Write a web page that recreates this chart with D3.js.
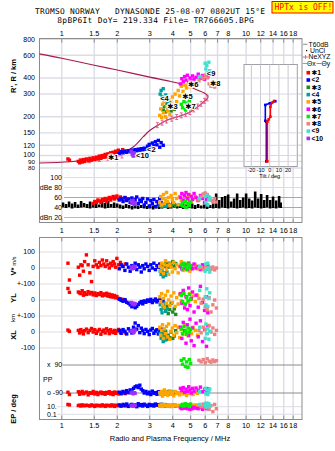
<!DOCTYPE html>
<html>
<head>
<meta charset="utf-8">
<script src="https://cdn.jsdelivr.net/npm/d3@7/dist/d3.min.js"></script>
<style>
  body { margin: 0; background: #ffffff; }
  svg { display: block; font-family: "Liberation Sans", Arial, "DejaVu Sans", sans-serif; }
</style>
</head>
<body>
<svg id="chart" width="335" height="451"></svg>
<script>
// ---- values ----
const freqTicks = [1, 1.5, 2, 3, 4, 5, 6, 7, 8, 10, 12, 14, 16, 18];
const heightTicks = [80, 90, 100, 120, 150, 200, 300, 400, 600, 800];
const dbTicks = [100, 80, 60, 40, 20];
const dbTickLabels = ['100', 'dBe 80', '60', '40', 'dBn 20'];
const tiltTicks = [-20, -10, 0, 10, 20];

const echoNames = ['✱1', '<2', '✱3', '<4', '✱5', '✱6', '✱7', '✱8', '<9', '<10'];
const echoColors = ['#ff0000', '#0000ff', '#228b22', '#00a0a0', '#ffa500',
                    '#ff00ff', '#00ee00', '#f08080', '#40e0d0', '#9b30ff'];

// each row: [freq MHz, range km, amplitude dB, V* m/s, YL km, XL km, PP deg, EP deg]
const echo1 = [
  [1.08, 94, null, 30, 72, 12, -85, 40], [1.10, 92, null, -75, 48, 4, -100, 30],
  [1.23, 90, null, 5, 50, 10, -82, 20], [1.25, 88, null, -45, 44, -6, -98, 25],
  [1.27, 92, null, 20, 40, 15, -88, 15], [1.29, 89, null, 15, 58, 2, -80, 30],
  [1.31, 93, null, -20, 30, -12, -95, 22], [1.33, 90, null, 40, 46, 8, -90, 18],
  [1.36, 94, null, 82, 35, 18, -84, 25], [1.39, 91, null, 20, 52, -4, -102, 20],
  [1.42, 95, null, -30, 38, 10, -88, 15], [1.45, 92, null, -85, 47, 22, -92, 30],
  [1.48, 96, 48, 10, 32, 0, -80, 20], [1.51, 93, 52, 45, 44, 14, -96, 12],
  [1.54, 97, 50, 20, 28, -8, -86, 25], [1.57, 94, 55, 5, 40, 6, -100, 18],
  [1.60, 99, 53, 35, 34, 16, -90, 22], [1.63, 95, 50, 15, 46, -14, -84, 15],
  [1.66, 100, 56, 50, 26, 4, -94, 30], [1.69, 97, 54, 25, 38, 12, -88, 20],
  [1.72, 102, 58, 10, 30, -6, -98, 12], [1.75, 98, 52, 45, 42, 20, -86, 25],
  [1.78, 103, 57, 20, 24, 8, -92, 18], [1.81, 100, 60, 0, 36, -10, -82, 22],
  [1.84, 105, 55, 30, 20, 14, -96, 15], [1.87, 101, 59, 15, 32, 2, -88, 30],
  [1.90, 106, 62, 40, 18, -4, -100, 20], [1.93, 103, 57, 25, 28, 10, -84, 12],
  [1.96, 108, 60, 5, 14, -8, -92, 25], [1.99, 104, 63, 60, 22, 6, -86, 18],
  [2.03, 110, 58, 20, 10, 16, -96, 22], [2.08, 106, 61, 35, 8, -2, -90, 15],
  [2.14, 111, 56, 10, 4, 8, -84, 20], [2.21, 108, 59, 25, -2, -6, -94, 18]
];
const echo2 = [
  [2.05, 104, 55, -5, 5, 10, -85, 30], [2.10, 107, 58, 20, -2, -8, -95, 15],
  [2.15, 105, 52, 10, -8, 15, -80, 40], [2.20, 108, 60, -15, 2, 4, -90, 20],
  [2.25, 106, 54, 25, -14, -12, -75, 50], [2.30, 109, 57, 5, -20, 20, -88, 12],
  [2.35, 107, 50, -20, -30, 8, -70, 25], [2.40, 110, 59, 15, -42, -6, -82, 40],
  [2.45, 108, 53, 0, -36, 30, -60, 18], [2.50, 111, 56, 30, -48, 56, -50, 30],
  [2.55, 109, 61, -10, -40, 18, -45, 10], [2.60, 112, 48, 20, -28, 40, -55, 60],
  [2.65, 110, 55, 5, -18, -4, -40, 20], [2.70, 113, 52, -25, -10, 24, -65, 35],
  [2.75, 111, 58, 15, -24, 10, -75, 15], [2.80, 114, 45, -5, -6, -10, -90, 45],
  [2.86, 112, 50, 25, -14, 16, -80, 25], [2.92, 118, 57, 10, 0, 4, -95, 12],
  [2.98, 122, 43, -15, -8, -16, -85, 40], [3.04, 115, 54, 20, 4, 12, -100, 20],
  [3.10, 125, 48, 0, -16, 22, -78, 30], [3.16, 119, 56, 30, -4, -8, -92, 15],
  [3.22, 128, 42, -10, 6, 6, -88, 50], [3.28, 121, 52, 15, -12, 14, -98, 25],
  [3.34, 131, 46, 5, -2, -12, -82, 35], [3.40, 116, 58, 25, 2, 0, -90, 18],
  [3.46, 126, 50, -20, -10, 18, -95, 40], [3.55, 120, 44, 10, -6, 8, -86, 22]
];
const echo3 = [
  [3.55, 225, 46, 20, -30, -10, -92, 20], [3.60, 240, 44, 10, -50, -30, -86, 30],
  [3.66, 218, 48, 35, -70, 5, -95, 15], [3.72, 250, 42, 25, -40, -45, -88, 25],
  [3.78, 232, 47, 5, -85, -20, -80, 18], [3.85, 258, 45, 30, -60, -35, -96, 22],
  [3.92, 222, 43, 15, -20, 0, -90, 12], [4.00, 245, 49, 40, -75, -40, -84, 28],
  [4.08, 228, 46, 10, -55, -25, -92, 20], [4.15, 236, 44, 28, -90, 8, -86, 15]
];
const echo4 = [
  [3.42, 300, 44, -20, -30, -10, -95, 30], [3.46, 320, 46, -40, -60, -40, -88, 20],
  [3.50, 285, 42, -12, -80, -20, -92, 40], [3.55, 330, 45, -55, -45, -60, -85, 25],
  [3.60, 270, 43, -30, -20, 0, -90, 15], [3.66, 295, 47, -45, -70, -50, -96, 35],
  [3.72, 262, 44, -25, -55, -30, -88, 22]
];
const echo5 = [
  [3.40, 205, 50, 10, 20, 30, -88, 20], [3.44, 230, 62, -20, -10, -20, -100, 15],
  [3.48, 198, 45, 30, 40, 10, -80, 30], [3.52, 250, 58, 0, -30, 45, -110, 12],
  [3.56, 215, 66, -35, 10, -40, -92, 25], [3.60, 262, 48, 20, -45, 20, -70, 40],
  [3.65, 200, 55, 45, 30, -10, -96, 18], [3.70, 240, 70, -10, -20, 35, -84, 22],
  [3.75, 222, 52, 15, 55, -30, -104, 15], [3.80, 270, 60, -40, 0, 50, -90, 30],
  [3.86, 208, 44, 25, -35, -45, -76, 20], [3.92, 250, 64, 5, 25, 5, -98, 12],
  [3.98, 285, 56, -25, -15, 25, -86, 28], [4.05, 232, 50, 35, 45, -20, -108, 18],
  [4.12, 300, 68, -5, -40, 40, -80, 35], [4.20, 262, 58, 20, 15, -5, -94, 20],
  [4.28, 320, 46, -30, -25, 30, -88, 15], [4.36, 290, 62, 10, 35, -35, -102, 25],
  [4.45, 345, 54, 40, -5, 15, -84, 12], [4.55, 315, 66, -15, 50, -15, -96, 30],
  [4.65, 352, 50, 25, -30, 45, -90, 20], [4.75, 335, 60, 0, 20, 0, -106, 18],
  [4.85, 358, 56, 30, -15, -25, -82, 25], [4.95, 342, 64, -20, 40, 20, -94, 15],
  [5.05, 362, 52, 15, 5, -10, -88, 22], [5.15, 348, 58, 5, 25, 30, -100, 20],
  [5.30, 368, 62, 20, -10, 10, -86, 30], [5.45, 355, 54, -5, 30, -20, -92, 18]
];
const echo6 = [
  [4.40, 360, 60, 10, 40, 30, -60, 5], [4.48, 395, 68, -5, -20, -40, -75, 3],
  [4.56, 375, 55, 25, 60, 60, -55, 8], [4.64, 410, 64, 0, -50, 10, -85, 4],
  [4.72, 385, 70, 20, 20, -70, -65, 6], [4.80, 420, 58, -10, -60, 45, -80, 3],
  [4.88, 370, 66, 30, 75, -20, -50, 10], [4.96, 400, 52, 5, -35, 80, -70, 2],
  [5.04, 380, 62, 15, 10, -55, -90, 5], [5.12, 415, 56, -5, 50, 25, -60, 3],
  [5.22, 392, 68, 25, -75, -85, -78, 7], [5.35, 405, 60, 0, 30, 55, -58, 4],
  [5.50, 428, 54, 10, -45, -30, -72, 3], [5.65, 398, 64, -10, 85, 70, -52, 6],
  [5.80, 418, 58, 20, -15, -60, -82, 2], [5.95, 390, 50, 5, -65, 15, -66, 5],
  [6.10, 425, 56, -8, 20, -90, -76, 3], [6.20, 408, 62, 12, -80, 40, -62, 4]
];
const echo7 = [
  [4.45, 250, 45, 20, 30, 20, 120, 20], [4.52, 235, 50, -5, -10, -10, 95, 40],
  [4.60, 262, 42, 30, 40, 35, 130, 15], [4.68, 228, 52, 10, -25, 5, 80, 60],
  [4.76, 255, 40, -10, 15, -15, 110, 25], [4.84, 240, 48, 25, -5, 25, 75, 35],
  [4.92, 265, 44, 0, 35, 0, 125, 12], [5.00, 232, 51, 15, 5, 15, 100, 50]
];
const echo8 = [
  [5.55, 380, 55, 0, 10, 10, 120, 30], [5.70, 410, 62, 5, -20, -5, 110, 10],
  [5.85, 395, 67, -10, 5, 30, 125, 50], [6.00, 420, 69, 2, -40, 15, 105, 5],
  [6.15, 400, 66, -5, -60, -10, 130, 80], [6.30, 360, 60, 3, 15, 40, 115, 2],
  [6.45, 345, 55, -8, -75, 0, 108, 20], [6.60, 372, 52, 6, -30, 25, 122, 0.5],
  [6.75, 340, 58, -12, 0, -15, 112, 40], [6.90, 355, 51, 0, -50, 10, 118, 3]
];
const echo9 = [
  [5.60, 410, 58, 10, 60, 30, -80, 40], [6.00, 520, 62, -20, 20, -40, -60, 15],
  [6.05, 470, 50, 25, -30, 50, -95, 80], [6.12, 500, 65, -5, 70, -10, -70, 8],
  [6.20, 440, 45, 30, -40, 20, -100, 30], [6.28, 530, 55, 0, 10, -45, -85, 60],
  [6.35, 455, 60, -25, 45, 5, -65, 12]
];
const echo10 = [
  [2.38, 108, 52, 5, -15, 5, -90, 20], [2.41, 102, 48, -5, -25, 10, -85, 15],
  [2.44, 99, 54, 10, -20, -5, -95, 25], [2.47, 105, 46, 0, -30, 0, -88, 18],
  [2.50, 100, 50, 8, -22, 12, -92, 22]
];
const echoSeries = [echo1, echo2, echo3, echo4, echo5, echo6, echo7, echo8, echo9, echo10];

// where each echo name is written on the R' panel [freq, km]
const echoLabelAt = [[1.78, 96], [2.9, 111], [3.73, 239], [3.42, 277], [4.5, 286],
                     [4.84, 357], [4.67, 239], [6.37, 361], [6.12, 438], [2.53, 101]];

// real height profile (bottomside then topside)
const profileFreq = [0.757, 1.11, 1.61, 2.07, 2.45, 2.77, 3.01, 3.28, 3.71, 4.21, 4.97, 5.62, 5.95, 6.2,
                     6.17, 5.9, 5.48, 4.66, 3.86, 3.0, 2.0, 1.5, 1.0, 0.757];
const profileHeight = [87.5, 89.5, 95, 104, 117, 140, 157, 170, 188, 199, 218, 246, 265, 280,
                       293, 307, 321, 354, 377, 406, 461, 502, 569, 615];
const neLowFreq = [1.25, 1.42, 1.6, 1.78, 1.95, 2.12];
const neLowHeight = [90, 92, 94, 96, 98, 100];
const neHighFreq = [3.3, 3.5, 3.7, 3.95, 4.2, 4.45, 4.7, 4.95, 5.2, 5.45, 5.7, 5.95, 6.15];
const neHighHeight = [172, 180, 187, 193, 199, 205, 211, 218, 228, 240, 252, 266, 278];

// tilt inset [deg, km]
const thetaX = [[-2.6, 90], [-2.6, 183], [-1.1, 191], [0.7, 200], [0.7, 239], [2.5, 257], [4.7, 265]];
const thetaY = [[-3.7, 90], [-3.7, 183], [-4.8, 186], [-4.8, 247], [0, 254], [6.1, 264]];

// background noise band in the amplitude strip
const noiseFreq = [1.016, 1.055, 1.095, 1.137, 1.181, 1.226, 1.273, 1.321, 1.372, 1.424, 1.479, 1.535,
  1.594, 1.655, 1.718, 1.784, 1.852, 1.923, 1.996, 2.072, 2.151, 2.234, 2.319, 2.408, 2.5, 2.595,
  2.694, 2.797, 2.904, 3.015, 3.13, 3.25, 3.374, 3.503, 3.637, 3.776, 3.92, 4.07, 4.225, 4.387,
  4.554, 4.728, 4.909, 5.097, 5.291, 5.493, 5.703, 5.921, 6.147, 6.382, 6.626, 6.879, 7.14, 7.41,
  7.70, 7.99, 8.30, 8.61, 8.94, 9.29, 9.64, 10.0, 10.39, 10.78, 11.2, 11.62, 12.07, 12.53, 13.0,
  13.5, 14.0, 14.55, 15.1, 15.4];
const noiseHigh = [50, 47, 52, 48, 51, 46, 53, 49, 47, 52, 48, 50, 46, 51, 49, 53, 47, 50, 48,
  46, 44, 47, 45, 43, 46, 44, 45, 47, 43, 46, 44, 45, 43,
  45, 47, 44, 46, 48, 45, 43, 47, 46, 44, 48, 45, 47, 44, 46, 49, 45, 48,
  68, 55, 61, 63, 66, 52, 58, 68, 55, 60, 68, 58, 54, 72, 58, 67, 55, 65, 55, 62, 54, 63, 50];
const noiseLow = [40, 39, 41, 38, 40, 39, 40, 41, 39, 38, 40, 39, 41, 40, 38, 39, 40, 39, 40,
  38, 37, 39, 38, 36, 38, 37, 39, 38, 37, 38, 36, 38, 37,
  38, 39, 37, 38, 40, 38, 39, 37, 38, 39, 38, 37, 39, 38, 38, 37, 39, 38,
  39, 38, 40, 39, 38, 40, 39, 38, 39, 40, 38, 39, 38, 40, 39, 38, 39, 40, 38, 39, 38, 40, 39];

// ---- scales ----
const x = d3.scaleLog().domain([0.757, 20.1]).range([39.5, 302]);
const yH = d3.scaleLog().domain([80, 810]).range([168, 38.5]);
const yDb = d3.scaleLinear().domain([100, 20]).range([177.5, 217.5]);
const yV = d3.scaleLinear().domain([100, -100]).range([252, 284]);
const yYL = d3.scaleLinear().domain([100, -100]).range([284, 316]);
const yXL = d3.scaleLinear().domain([100, -100]).range([316, 348]);
const yPP = d3.scaleLinear().domain([90, -90]).range([365, 393]);
const yEP = d3.scaleLog().domain([10, 0.1]).range([406.7, 414.3]);
const xTilt = d3.scaleLinear().domain([-28, 30]).range([244, 297.3]);

const svg = d3.select('#chart');
const mono = '"DejaVu Sans Mono", monospace';
const gridColor = '#dcdce6';
const frameColor = '#8c8c8c';

// ---- header ----
svg.append('text')
  .attr('x', 35).attr('y', 14.2)
  .style('font-family', mono).style('font-size', '7.9px').style('white-space', 'pre')
  .attr('textLength', 230).attr('lengthAdjust', 'spacing')
  .text('TROMSO NORWAY   DYNASONDE 25-08-07 0802UT 15°E');
svg.append('text')
  .attr('x', 57.3).attr('y', 23)
  .style('font-family', mono).style('font-size', '7.9px').style('white-space', 'pre')
  .attr('textLength', 196.5).attr('lengthAdjust', 'spacing')
  .text('8pBP6It DoY= 219.334 File= TR766605.BPG');

svg.append('rect')
  .attr('x', 272).attr('y', 1.5).attr('width', 61).attr('height', 11.5)
  .attr('fill', '#ffff00').attr('stroke', '#ff0000').attr('stroke-width', 1);
svg.append('text')
  .attr('x', 274.5).attr('y', 10.3)
  .style('font-family', mono).style('font-size', '8px').style('white-space', 'pre')
  .attr('fill', '#ff0000')
  .text('HPTx is OFF!');

// ---- grids ----
const grid = svg.append('g').attr('stroke', gridColor).attr('stroke-width', 1.4);
[[38.5, 222.5], [237.5, 419.5]].forEach(([y0, y1]) => {
  grid.selectAll(null).data(freqTicks).join('line')
    .attr('x1', d => x(d)).attr('x2', d => x(d))
    .attr('y1', y0).attr('y2', y1);
});
grid.selectAll(null).data(heightTicks).join('line')
  .attr('x1', 39.5).attr('x2', 302)
  .attr('y1', d => yH(d)).attr('y2', d => yH(d));

// amplitude strip lines
svg.append('g').selectAll('line').data(dbTicks).join('line')
  .attr('x1', 64).attr('x2', 302)
  .attr('y1', d => yDb(d)).attr('y2', d => yDb(d))
  .attr('stroke', d => d === 20 ? '#b4b4e6' : (d === 60 || d === 40 ? '#a8a8a8' : gridColor))
  .attr('stroke-width', 1);

// lower panel lines
const lowerLines = [yV(100), yV(0), yV(-100), yYL(0), yYL(-100), yXL(0), yXL(-100)];
svg.append('g').selectAll('line').data(lowerLines).join('line')
  .attr('x1', 39.5).attr('x2', 302)
  .attr('y1', d => d).attr('y2', d => d)
  .attr('stroke', gridColor).attr('stroke-width', 1.2);
svg.append('g').selectAll('line').data([90, -90]).join('line')
  .attr('x1', x(1) + 1).attr('x2', 302)
  .attr('y1', d => yPP(d)).attr('y2', d => yPP(d))
  .attr('stroke', '#8c8c8c').attr('stroke-width', 1);
svg.append('g').selectAll('line').data([10, 0.1]).join('line')
  .attr('x1', 57).attr('x2', 302)
  .attr('y1', d => yEP(d)).attr('y2', d => yEP(d))
  .attr('stroke', gridColor).attr('stroke-width', 1);

// ---- frames ----
const frames = svg.append('g').attr('fill', 'none').attr('stroke', frameColor).attr('stroke-width', 1);
frames.append('rect').attr('x', 39.5).attr('y', 38.5).attr('width', 262.5).attr('height', 184);
frames.append('rect').attr('x', 39.5).attr('y', 237.5).attr('width', 262.5).attr('height', 182);
[[38.5, 4], [222.5, -4], [237.5, 4], [419.5, -4]].forEach(([y0, len]) => {
  frames.selectAll(null).data(freqTicks).join('line')
    .attr('x1', d => x(d)).attr('x2', d => x(d))
    .attr('y1', y0).attr('y2', y0 + len);
});

// ---- frequency labels ----
const tickFont = '7px';
[33, 230, 425].forEach(yp => {
  svg.append('g').selectAll('text').data(freqTicks).join('text')
    .attr('x', d => x(d)).attr('y', yp).attr('dy', '0.35em')
    .attr('text-anchor', 'middle').style('font-size', '7.3px')
    .text(d => d);
});
svg.append('text')
  .attr('x', 170).attr('y', 438.7).attr('dy', '0.35em')
  .attr('text-anchor', 'middle').style('font-size', '7.5px')
  .text('Radio and Plasma Frequency / MHz');

// ---- left labels ----
const heightLabelNudge = { 100: -1, 90: 0.8, 80: 0.2 };
svg.append('g').selectAll('text').data(heightTicks).join('text')
  .attr('x', 35).attr('y', d => yH(d) + (heightLabelNudge[d] || 0)).attr('dy', '0.33em')
  .attr('text-anchor', 'end').style('font-size', d => d < 100 ? '6.2px' : tickFont)
  .text(d => d);
svg.append('g').selectAll('text').data(dbTicks).join('text')
  .attr('x', 62).attr('y', d => yDb(d)).attr('dy', '0.35em')
  .attr('text-anchor', 'end').style('font-size', tickFont)
  .text((d, i) => dbTickLabels[i]);

const lowerLabels = [[yV(100), '100'], [yV(0), '0'], [yV(-100), '+-100'], [yYL(0), '0'],
                     [yYL(-100), '+-100'], [yXL(0), '0'], [yXL(-100), '-100']];
svg.append('g').selectAll('text').data(lowerLabels).join('text')
  .attr('x', 35).attr('y', d => d[0]).attr('dy', '0.35em')
  .attr('text-anchor', 'end').style('font-size', tickFont)
  .text(d => d[1]);

const innerLabels = [[yPP(90), 'x  90'], [yPP(-90), 'o -90'], [yEP(10), '10.'], [yEP(0.1), '0.1']];
svg.append('g').selectAll('text').data(innerLabels).join('text')
  .attr('x', 47).attr('y', d => d[0]).attr('dy', '0.35em')
  .style('font-size', tickFont).style('white-space', 'pre')
  .text(d => d[1]);
svg.append('text').attr('x', 43).attr('y', 380).attr('dy', '0.35em')
  .style('font-size', tickFont).text('PP');

function sideTitle(xp, yp, txt, size) {
  return svg.append('text')
    .attr('transform', `translate(${xp},${yp}) rotate(-90)`)
    .attr('text-anchor', 'middle').attr('dy', '0.35em')
    .style('font-size', size).style('font-weight', 'bold')
    .text(txt);
}
sideTitle(13, 76, "R', R / km", '7.5px');
const vt = sideTitle(13, 266, 'V* ', '7.5px');
vt.append('tspan').style('font-size', '5.5px').style('font-weight', 'normal').text('m/s');
sideTitle(13, 298, 'YL', '7.5px');
sideTitle(13, 318, 'km', '6px').style('font-weight', 'normal');
sideTitle(13, 335, 'XL', '7.5px');
sideTitle(13, 409, 'EP / deg', '7.5px');

// ---- amplitude noise band ----
svg.append('g').selectAll('rect').data(noiseFreq).join('rect')
  .attr('x', d => x(d) - 1.3).attr('width', 2.6)
  .attr('y', (d, i) => yDb(noiseHigh[i]))
  .attr('height', (d, i) => yDb(noiseLow[i]) - yDb(noiseHigh[i]))
  .attr('fill', '#000000');

// ---- height profile ----
const profile = profileFreq.map((f, i) => [f, profileHeight[i]]);
svg.append('path')
  .datum(profile)
  .attr('d', d3.line().x(d => x(d[0])).y(d => yH(d[1])).curve(d3.curveCatmullRom.alpha(0.5)))
  .attr('fill', 'none').attr('stroke', '#a8184c').attr('stroke-width', 1.1);

[[neLowFreq, neLowHeight], [neHighFreq, neHighHeight]].forEach(([fs, hs]) => {
  const pts = fs.map((f, i) => [f, hs[i]]);
  const g = svg.append('g').attr('stroke', '#e05a8a').attr('stroke-width', 0.9);
  g.append('path').datum(pts)
    .attr('d', d3.line().x(d => x(d[0])).y(d => yH(d[1])))
    .attr('fill', 'none');
  g.selectAll('path.mk').data(pts).join('path')
    .attr('class', 'mk')
    .attr('d', d => {
      const px = x(d[0]), py = yH(d[1]);
      return `M${px},${py - 2.5}V${py + 2.5}M${px - 1.5},${py - 2.5}H${px + 1.5}M${px - 1.5},${py + 2.5}H${px + 1.5}`;
    });
});

// ---- echo points in every strip ----
const strips = [[1, yH], [2, yDb], [3, yV], [4, yYL], [5, yXL], [6, yPP], [7, yEP]];
strips.forEach(([col, yScale]) => {
  echoSeries.forEach((series, i) => {
    svg.append('g').attr('fill', echoColors[i])
      .selectAll('rect')
      .data(series.filter(d => d[col] !== null))
      .join('rect')
      .attr('x', d => x(d[0]) - 1.7)
      .attr('y', d => yScale(d[col]) - 1.7)
      .attr('width', 3.4).attr('height', 3.4);
  });
});

// echo names on the range panel
svg.append('g').selectAll('text').data(echoLabelAt).join('text')
  .attr('x', d => x(d[0])).attr('y', d => yH(d[1])).attr('dy', '0.35em')
  .style('font-size', '7.5px').style('font-weight', 'bold')
  .attr('stroke', '#ffffff').attr('stroke-width', 2).attr('paint-order', 'stroke')
  .text((d, i) => echoNames[i]);

// ---- tilt inset ----
const inset = svg.append('g');
inset.append('rect').attr('x', 244).attr('y', 64.5).attr('width', 53.3).attr('height', 102)
  .attr('fill', '#ffffff').attr('stroke', '#a0a0a8');
inset.selectAll('line.v').data(tiltTicks).join('line').attr('class', 'v')
  .attr('x1', d => xTilt(d)).attr('x2', d => xTilt(d)).attr('y1', 64.5).attr('y2', 166.5)
  .attr('stroke', '#c8c8d2');
inset.selectAll('line.h').data(heightTicks.filter(h => h >= 85 && h <= 500)).join('line').attr('class', 'h')
  .attr('x1', 244).attr('x2', 297.3).attr('y1', d => yH(d)).attr('y2', d => yH(d))
  .attr('stroke', '#d8d8e2');
[[thetaY, '#0000ff'], [thetaX, '#ff0000']].forEach(([pts, col]) => {
  inset.append('path').datum(pts)
    .attr('d', d3.line().x(d => xTilt(d[0])).y(d => yH(d[1])))
    .attr('fill', 'none').attr('stroke', col).attr('stroke-width', 1.6);
  inset.selectAll(null).data(pts).join('rect')
    .attr('x', d => xTilt(d[0]) - 1.3).attr('y', d => yH(d[1]) - 1.3)
    .attr('width', 2.6).attr('height', 2.6).attr('fill', col);
});
inset.selectAll('text').data(tiltTicks).join('text')
  .attr('x', d => xTilt(d)).attr('y', 170.5).attr('dy', '0.35em')
  .attr('text-anchor', 'middle').style('font-size', '5.5px')
  .text(d => d);
inset.append('text').attr('x', xTilt(0)).attr('y', 175.8).attr('dy', '0.35em')
  .attr('text-anchor', 'middle').style('font-size', '5.5px').text('Tilt / deg');

// ---- legend ----
const legend = svg.append('g').style('font-size', '6.8px');
legend.append('line').attr('x1', 303).attr('x2', 307.5).attr('y1', 44.3).attr('y2', 44.3)
  .attr('stroke', '#a0a0a0').attr('stroke-width', 1.2);
legend.append('text').attr('x', 308.5).attr('y', 44.3).attr('dy', '0.35em').text('T60dB');
legend.append('rect').attr('x', 306).attr('y', 50).attr('width', 1.2).attr('height', 1.2).attr('fill', '#000');
legend.append('text').attr('x', 310).attr('y', 50.7).attr('dy', '0.35em').text('UnCl');
legend.append('path').attr('d', 'M302.5,57H308.5M305.5,55V59')
  .attr('stroke', '#e05a8a').attr('stroke-width', 0.9);
legend.append('text').attr('x', 308.5).attr('y', 57).attr('dy', '0.35em').text('NeXYZ');
legend.append('line').attr('x1', 302.5).attr('x2', 307).attr('y1', 63.5).attr('y2', 63.5)
  .attr('stroke', '#f08080').attr('stroke-width', 1);
legend.append('text').attr('x', 307).attr('y', 63.5).attr('dy', '0.35em').text('Θx');
legend.append('line').attr('x1', 316.5).attr('x2', 321.5).attr('y1', 63.5).attr('y2', 63.5)
  .attr('stroke', '#8080f0').attr('stroke-width', 1);
legend.append('text').attr('x', 321.5).attr('y', 63.5).attr('dy', '0.35em').text('Θy');

const echoLegend = legend.selectAll('g.item').data(echoNames).join('g').attr('class', 'item')
  .attr('transform', (d, i) => `translate(0,${72.7 + i * 7.3})`);
echoLegend.append('rect').attr('x', 306.5).attr('y', -1.8).attr('width', 3.6).attr('height', 3.6)
  .attr('fill', (d, i) => echoColors[i]);
echoLegend.append('text').attr('x', 311.5).attr('dy', '0.35em')
  .style('font-weight', 'bold').text(d => d);
</script>
</body>
</html>
